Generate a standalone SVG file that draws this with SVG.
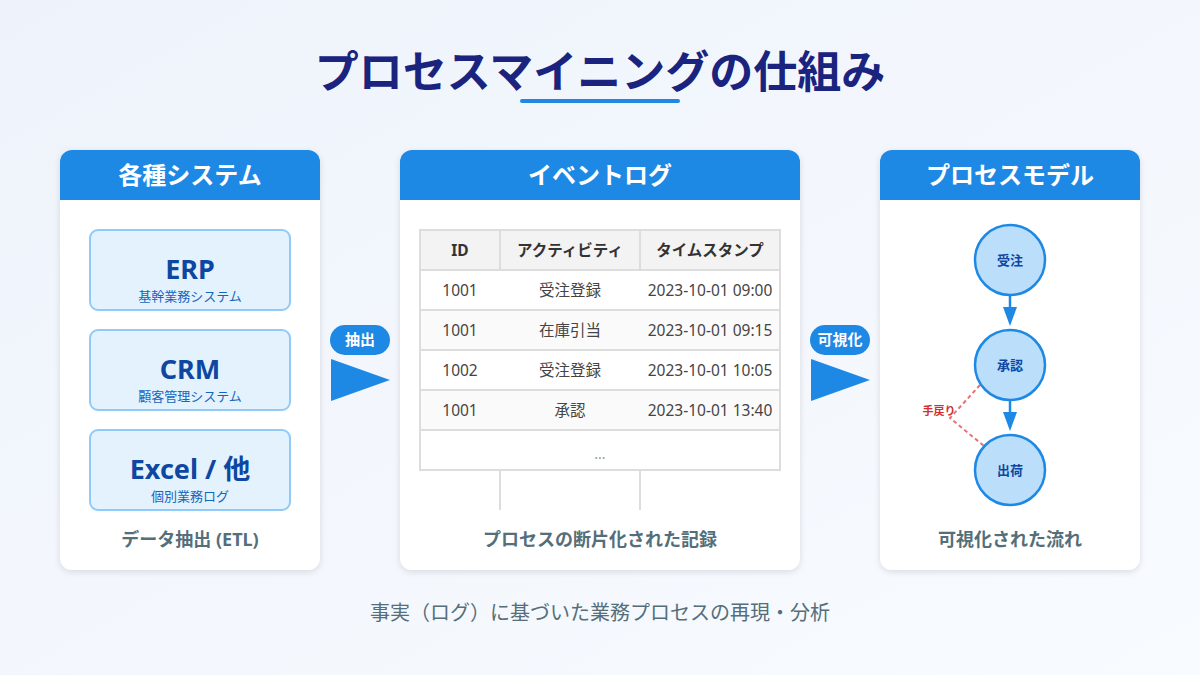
<svg xmlns="http://www.w3.org/2000/svg" width="1200" height="675" viewBox="0 0 1200 675">
<defs>
<linearGradient id="bg" x1="0" y1="0" x2="1" y2="1">
<stop offset="0" stop-color="#eef3fb"/>
<stop offset="1" stop-color="#f8fbff"/>
</linearGradient>
<filter id="sh" x="-10%" y="-10%" width="120%" height="120%">
<feDropShadow dx="0" dy="2" stdDeviation="3" flood-color="#000" flood-opacity="0.12"/>
</filter>
<style>
text{font-family:"Noto Sans","Noto Sans CJK JP",sans-serif}
.panel{fill:#fff;filter:url(#sh)}
.hdr{fill:#1e88e5}
.hdrt{fill:#fff;font-size:24px;font-weight:700;text-anchor:middle}
.cap{fill:#546e7a;font-size:18px;font-weight:700;text-anchor:middle}
.sys{fill:#e3f2fd;stroke:#90caf9;stroke-width:2}
.sysm{fill:#0d47a1;font-size:27px;font-weight:700;text-anchor:middle}
.syss{fill:#1565c0;font-size:13px;text-anchor:middle}
.grid{stroke:#dddddd;stroke-width:2;fill:none}
.th{fill:#333;font-size:15.5px;font-weight:700;text-anchor:middle}
.td{fill:#444;font-size:15.5px;text-anchor:middle}
.badge{fill:#1e88e5}
.badget{fill:#fff;font-size:15px;font-weight:700;text-anchor:middle}
.bigarrow{fill:#1e88e5}
.node{fill:#bbdefb;stroke:#1e88e5;stroke-width:2.5}
.nodet{fill:#0d47a1;font-size:13px;font-weight:700;text-anchor:middle}
.flow{stroke:#1e88e5;stroke-width:2.5;fill:none}
.rework{stroke:#e57373;stroke-width:2;stroke-dasharray:4 3;fill:none}
</style>
</defs>
<rect width="1200" height="675" fill="url(#bg)"/>
<g id="title">
<text x="600" y="88" text-anchor="middle" font-size="44" font-weight="700" fill="#1a237e">プロセスマイニングの仕組み</text>
<line x1="522" y1="101" x2="678" y2="101" stroke="#1e88e5" stroke-width="4" stroke-linecap="round"/>
</g>
<g id="panel-systems">
<rect class="panel" x="60" y="150" width="260" height="420" rx="12"/>
<path class="hdr" d="M60 200 V162 a12 12 0 0 1 12 -12 H308 a12 12 0 0 1 12 12 V200 Z"/>
<text class="hdrt" x="190" y="184">各種システム</text>
<g id="sys-erp">
<rect class="sys" x="90" y="230" width="200" height="80" rx="8"/>
<text class="sysm" x="190" y="279">ERP</text>
<text class="syss" x="190" y="301">基幹業務システム</text>
</g>
<g id="sys-crm">
<rect class="sys" x="90" y="330" width="200" height="80" rx="8"/>
<text class="sysm" x="190" y="379">CRM</text>
<text class="syss" x="190" y="401">顧客管理システム</text>
</g>
<g id="sys-excel">
<rect class="sys" x="90" y="430" width="200" height="80" rx="8"/>
<text class="sysm" x="190" y="479">Excel / 他</text>
<text class="syss" x="190" y="501">個別業務ログ</text>
</g>
<text class="cap" x="190" y="546">データ抽出 (ETL)</text>
</g>
<g id="panel-eventlog">
<rect class="panel" x="400" y="150" width="400" height="420" rx="12"/>
<path class="hdr" d="M400 200 V162 a12 12 0 0 1 12 -12 H788 a12 12 0 0 1 12 12 V200 Z"/>
<text class="hdrt" x="600" y="184">イベントログ</text>
<g id="table">
<rect x="420" y="230" width="360" height="40" fill="#f3f3f3"/>
<rect x="420" y="270" width="360" height="40" fill="#ffffff"/>
<rect x="420" y="310" width="360" height="40" fill="#fafafa"/>
<rect x="420" y="350" width="360" height="40" fill="#ffffff"/>
<rect x="420" y="390" width="360" height="40" fill="#fafafa"/>
<rect x="420" y="430" width="360" height="40" fill="#ffffff"/>
<rect class="grid" x="420" y="230" width="360" height="240"/>
<path class="grid" d="M420 270 H780 M420 310 H780 M420 350 H780 M420 390 H780 M420 430 H780 M500 230 V270 M640 230 V270 M500 470 V510 M640 470 V510"/>
<text class="th" x="460" y="256">ID</text>
<text class="th" x="570" y="256">アクティビティ</text>
<text class="th" x="710" y="256">タイムスタンプ</text>
<text class="td" x="460" y="296">1001</text>
<text class="td" x="570" y="296">受注登録</text>
<text class="td" x="710" y="296">2023-10-01 09:00</text>
<text class="td" x="460" y="336">1001</text>
<text class="td" x="570" y="336">在庫引当</text>
<text class="td" x="710" y="336">2023-10-01 09:15</text>
<text class="td" x="460" y="376">1002</text>
<text class="td" x="570" y="376">受注登録</text>
<text class="td" x="710" y="376">2023-10-01 10:05</text>
<text class="td" x="460" y="416">1001</text>
<text class="td" x="570" y="416">承認</text>
<text class="td" x="710" y="416">2023-10-01 13:40</text>
<text x="600" y="459" text-anchor="middle" font-size="14" fill="#999">...</text>
</g>
<text class="cap" x="600" y="546">プロセスの断片化された記録</text>
</g>
<g id="panel-model">
<rect class="panel" x="880" y="150" width="260" height="420" rx="12"/>
<path class="hdr" d="M880 200 V162 a12 12 0 0 1 12 -12 H1128 a12 12 0 0 1 12 12 V200 Z"/>
<text class="hdrt" x="1010" y="184">プロセスモデル</text>
<text class="cap" x="1010" y="546">可視化された流れ</text>
</g>
<g id="connectors">
<g id="arrow-extract">
<rect class="badge" x="330" y="325" width="60" height="30" rx="15"/>
<text class="badget" x="360" y="345">抽出</text>
<polygon class="bigarrow" points="331,359 390,380 331,401"/>
</g>
<g id="arrow-visualize">
<rect class="badge" x="810" y="325" width="60" height="30" rx="15"/>
<text class="badget" x="840" y="345">可視化</text>
<polygon class="bigarrow" points="811,359 870,380 811,401"/>
</g>
<g id="flow-1">
<line class="flow" x1="1010" y1="295" x2="1010" y2="309"/>
<polygon points="1003,307 1017,307 1010,326" fill="#1e88e5"/>
</g>
<g id="flow-2">
<line class="flow" x1="1010" y1="400" x2="1010" y2="414"/>
<polygon points="1003,412 1017,412 1010,431" fill="#1e88e5"/>
</g>
<g id="rework">
<polyline class="rework" points="980,385 950,418 984,446"/>
<text x="939" y="415" text-anchor="middle" font-size="11" font-weight="700" fill="#d32f2f">手戻り</text>
</g>
</g>
<g id="node-order">
<circle class="node" cx="1010" cy="260" r="35"/>
<text class="nodet" x="1010" y="265">受注</text>
</g>
<g id="node-approve">
<circle class="node" cx="1010" cy="365" r="35"/>
<text class="nodet" x="1010" y="370">承認</text>
</g>
<g id="node-ship">
<circle class="node" cx="1010" cy="470" r="35"/>
<text class="nodet" x="1010" y="475">出荷</text>
</g>
<g id="footer">
<text x="600" y="620" text-anchor="middle" font-size="20" fill="#546e7a">事実（ログ）に基づいた業務プロセスの再現・分析</text>
</g>
</svg>
